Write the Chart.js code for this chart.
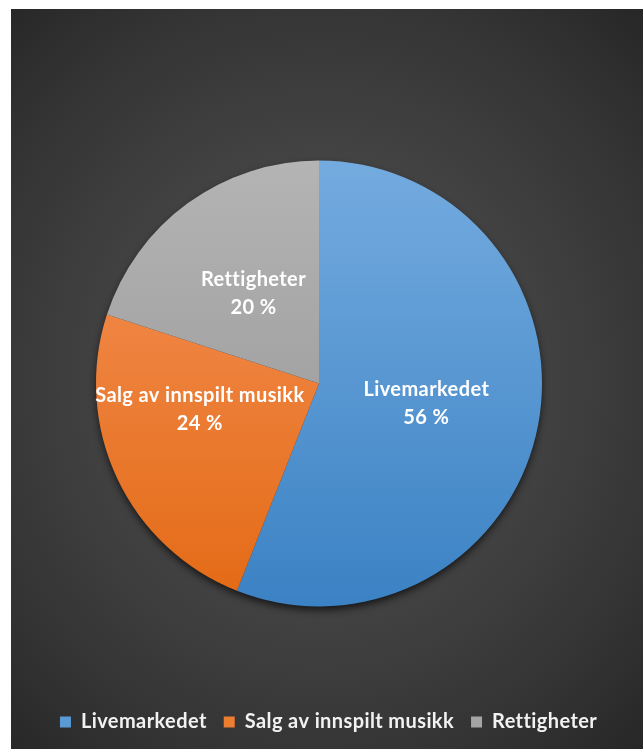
<!DOCTYPE html>
<html><head><meta charset="utf-8">
<script src="https://cdn.jsdelivr.net/npm/chart.js@4.4.1/dist/chart.umd.min.js"></script>
<style>
html,body{margin:0;padding:0;background:#fff;}
#wrap{position:absolute;left:11px;top:9px;width:632px;height:740px;
background: radial-gradient(ellipse 78% 72% at 49% 50%, #4f4f4f 0%, #444 40%, #333 75%, #242424 100%);}
canvas{display:block}
</style></head><body>
<div id="wrap"><canvas id="c"></canvas></div>
<script>
const categories = ['Livemarkedet', 'Salg av innspilt musikk', 'Rettigheter'];
const shares = [56, 24, 20];
const percentLabels = ['56 %', '24 %', '20 %'];

// styles
const topColors = ['#74abdf', '#f6935a', '#b4b4b4'];
const bottomColors = ['#3b82c4', '#e36a15', '#929292'];
const legendColors = ['#5b9bd5', '#ed7d31', '#a5a5a5'];
const labelRadiusFactor = [0.49, 0.547, 0.5];
const labelAngleShiftDeg = [0, 12.9, 0];
const FONT = 'Lato';
const FONT_SIZE = 20;
const PIE_R = 223;

function sliceGradient(context) {
  const chart = context.chart;
  const area = chart.chartArea;
  const i = context.dataIndex;
  if (!area) return legendColors[i];
  const cy = (area.top + area.bottom) / 2;
  const g = chart.ctx.createLinearGradient(0, cy - PIE_R, 0, cy + PIE_R);
  g.addColorStop(0, topColors[i]);
  g.addColorStop(1, bottomColors[i]);
  return g;
}

const spacingPlugin = {
  id: 'noLigatures',
  beforeDraw(chart) { chart.ctx.letterSpacing = '0.4px'; }
};

const shadowPlugin = {
  id: 'pieShadow',
  beforeDatasetsDraw(chart) {
    const arc = chart.getDatasetMeta(0).data[0];
    if (!arc) return;
    const ctx = chart.ctx;
    ctx.save();
    ctx.shadowColor = 'rgba(0,0,0,0.75)';
    ctx.shadowBlur = 9;
    ctx.shadowOffsetY = 4;
    ctx.beginPath();
    ctx.arc(arc.x, arc.y, arc.outerRadius - 1, 0, Math.PI * 2);
    ctx.fillStyle = '#2a2a2a';
    ctx.fill();
    ctx.restore();
  }
};

const labelPlugin = {
  id: 'sliceLabels',
  afterDatasetsDraw(chart) {
    const ctx = chart.ctx;
    const meta = chart.getDatasetMeta(0);
    ctx.save();
    ctx.letterSpacing = '0.4px';
    ctx.fillStyle = '#ffffff';
    ctx.font = 'bold ' + FONT_SIZE + 'px ' + FONT;
    ctx.textAlign = 'center';
    ctx.textBaseline = 'middle';
    meta.data.forEach((arc, i) => {
      const mid = (arc.startAngle + arc.endAngle) / 2 + labelAngleShiftDeg[i] * Math.PI / 180;
      const r = arc.outerRadius * labelRadiusFactor[i];
      const x = arc.x + Math.cos(mid) * r;
      const y = arc.y + Math.sin(mid) * r;
      ctx.fillText(categories[i], x, y - 14);
      ctx.fillText(percentLabels[i], x, y + 14);
    });
    ctx.restore();
  }
};

new Chart(document.getElementById('c'), {
  type: 'pie',
  data: {
    labels: categories,
    datasets: [{
      data: shares,
      backgroundColor: sliceGradient,
      borderWidth: 0
    }]
  },
  plugins: [spacingPlugin, shadowPlugin, labelPlugin],
  options: {
    responsive: true,
    maintainAspectRatio: false,
    animation: false,
    radius: PIE_R,
    layout: { padding: { top: 63, left: 0, right: 16, bottom: 7 } },
    plugins: {
      tooltip: { enabled: false },
      legend: {
        position: 'bottom',
        labels: {
          color: '#f2f2f2',
          font: { family: FONT, weight: 'bold', size: FONT_SIZE },
          boxWidth: 11,
          boxHeight: 11,
          padding: 17,
          generateLabels(chart) {
            return categories.map((c, i) => ({
              text: c,
              fillStyle: legendColors[i],
              strokeStyle: legendColors[i],
              lineWidth: 0,
              fontColor: '#f2f2f2',
              hidden: false,
              index: i
            }));
          }
        }
      }
    }
  }
});
</script>
</body></html>
